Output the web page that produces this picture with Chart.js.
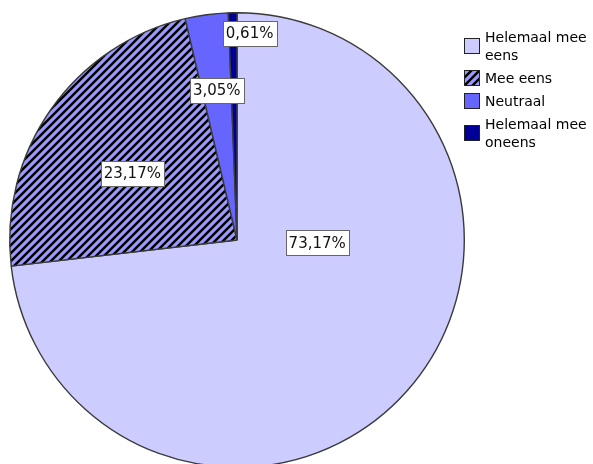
<!DOCTYPE html>
<html>
<head>
<meta charset="utf-8">
<script src="https://cdn.jsdelivr.net/npm/chart.js@4/dist/chart.umd.min.js"></script>
<style>
  html, body { margin: 0; padding: 0; background: #fff; overflow: hidden; }
  body { width: 593px; height: 464px; position: relative; font-family: "DejaVu Sans", Verdana, sans-serif; }
  #wrap { position: absolute; left: 0; top: 0; width: 470px; height: 480px; }
  #legend { position: absolute; left: 464px; top: 28px; width: 129px; font-size: 14px; line-height: 18px; color: #000; }
  .item { display: flex; align-items: center; margin-bottom: 5px; }
  .item canvas { flex: none; margin-right: 5px; }
  .item span { width: 108px; }
</style>
</head>
<body>
<div id="wrap"><canvas id="pieChart"></canvas></div>
<div id="legend"></div>
<script>
// answers and their share of respondents (%)
const categories = ['Helemaal mee eens', 'Mee eens', 'Neutraal', 'Helemaal mee oneens'];
const percentages = [73.17, 23.17, 3.05, 0.61];
const sliceColors = ['#ccccff', '#9999ff', '#6666ff', '#000099'];
const hatched = [false, true, false, false];

// where each value label sits: [angle clockwise from top (deg), fraction of radius]
const labelSpots = [[92, 0.353], [302.5, 0.546], [352.3, 0.664], [3.5, 0.91]];

function hatchPattern(base) {
  const c = document.createElement('canvas');
  c.width = 8; c.height = 8;
  const g = c.getContext('2d');
  g.fillStyle = base;
  g.fillRect(0, 0, 8, 8);
  g.strokeStyle = '#000';
  g.lineWidth = 2.4;
  g.beginPath();
  g.moveTo(-2, 10); g.lineTo(10, -2);
  g.moveTo(-2, 2); g.lineTo(2, -2);
  g.moveTo(6, 10); g.lineTo(10, 6);
  g.stroke();
  return g.createPattern(c, 'repeat');
}

const fills = sliceColors.map((c, i) => hatched[i] ? hatchPattern(c) : c);

const fmt = v => v.toFixed(2).replace('.', ',') + '%';

const valueLabels = {
  id: 'valueLabels',
  afterDatasetsDraw(chart) {
    const ctx = chart.ctx;
    const arcs = chart.getDatasetMeta(0).data;
    ctx.save();
    ctx.font = '15px "DejaVu Sans", Verdana, sans-serif';
    ctx.textAlign = 'center';
    ctx.textBaseline = 'middle';
    arcs.forEach((arc, i) => {
      const [deg, frac] = labelSpots[i];
      const a = deg * Math.PI / 180;
      const x = arc.x + Math.sin(a) * arc.outerRadius * frac;
      const y = arc.y - Math.cos(a) * arc.outerRadius * frac;
      const txt = fmt(percentages[i]);
      const w = Math.round(ctx.measureText(txt).width + 6);
      const h = 25;
      const bx = Math.round(x - w / 2) + 0.5, by = Math.round(y - h / 2) + 0.5;
      ctx.fillStyle = '#fff';
      ctx.fillRect(bx, by, w, h);
      ctx.strokeStyle = '#666';
      ctx.lineWidth = 1;
      ctx.strokeRect(bx, by, w, h);
      ctx.fillStyle = '#111';
      ctx.fillText(txt, x, y + 1);
    });
    ctx.restore();
  }
};

new Chart(document.getElementById('pieChart'), {
  type: 'pie',
  data: {
    labels: categories,
    datasets: [{
      data: percentages,
      backgroundColor: fills,
      borderColor: '#3a3a3a',
      borderWidth: 1.4
    }]
  },
  options: {
    responsive: true,
    maintainAspectRatio: false,
    animation: false,
    layout: { padding: { left: 9, top: 12, right: 5, bottom: 12 } },
    plugins: {
      legend: { display: false },
      tooltip: { enabled: false }
    }
  },
  plugins: [valueLabels]
});

// legend on the right
const legend = document.getElementById('legend');
categories.forEach((name, i) => {
  const item = document.createElement('div');
  item.className = 'item';
  const sw = document.createElement('canvas');
  sw.width = 16; sw.height = 16;
  const g = sw.getContext('2d');
  g.fillStyle = fills[i];
  g.fillRect(0, 0, 16, 16);
  g.strokeStyle = '#222';
  g.lineWidth = 1;
  g.strokeRect(0.5, 0.5, 15, 15);
  const label = document.createElement('span');
  label.textContent = name;
  item.appendChild(sw);
  item.appendChild(label);
  legend.appendChild(item);
});
</script>
</body>
</html>
